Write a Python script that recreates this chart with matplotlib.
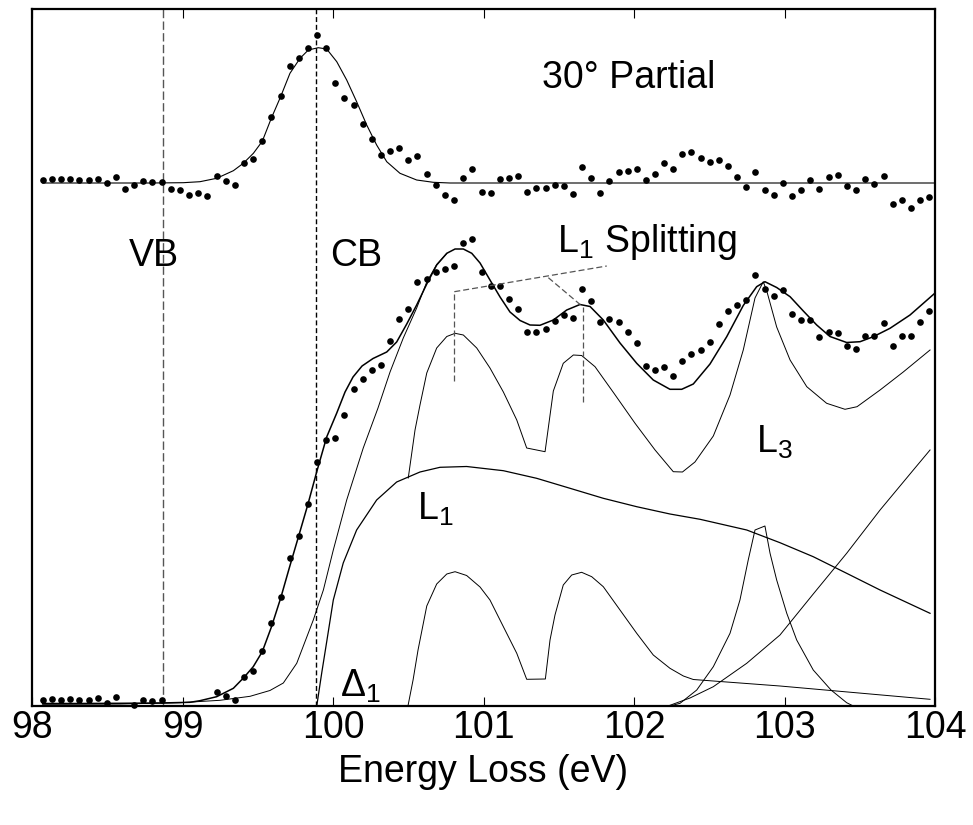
import matplotlib
matplotlib.use("Agg")
import matplotlib.pyplot as plt
import numpy as np

plt.rcParams['font.family'] = ['Liberation Sans', 'DejaVu Sans']
plt.rcParams['mathtext.fontset'] = 'custom'
plt.rcParams['mathtext.rm'] = 'Liberation Sans'
plt.rcParams['mathtext.it'] = 'Liberation Sans:italic'

# energy channels (eV), shared by both measured spectra
energy = [98.071, 98.131, 98.193, 98.254, 98.314, 98.377, 98.437, 98.496, 98.558, 98.618,
          98.680, 98.740, 98.799, 98.862, 98.922, 98.983, 99.043, 99.105, 99.165, 99.227,
          99.287, 99.347, 99.409, 99.468, 99.530, 99.590, 99.652, 99.713, 99.773, 99.833,
          99.894, 99.954, 100.015, 100.076, 100.137, 100.197, 100.258, 100.319, 100.379, 100.440,
          100.500, 100.561, 100.623, 100.682, 100.743, 100.804, 100.865, 100.926, 100.987, 101.048,
          101.108, 101.169, 101.230, 101.291, 101.352, 101.412, 101.473, 101.533, 101.595, 101.656,
          101.716, 101.776, 101.837, 101.898, 101.958, 102.019, 102.080, 102.141, 102.201, 102.262,
          102.322, 102.382, 102.444, 102.504, 102.563, 102.626, 102.686, 102.746, 102.807, 102.868,
          102.928, 102.990, 103.050, 103.110, 103.171, 103.231, 103.294, 103.354, 103.415, 103.475,
          103.536, 103.597, 103.658, 103.719, 103.780, 103.841, 103.902, 103.962]

# 30 deg partial spectrum (relative to its own baseline)
partial = [0.03, 0.043, 0.04, 0.043, 0.033, 0.033, 0.043, 0.003, 0.057, -0.06,
           -0.023, 0.023, 0.013, 0.013, -0.063, -0.07, -0.12, -0.103, -0.13, 0.07,
           0.02, -0.02, 0.197, 0.24, 0.417, 0.663, 0.867, 1.167, 1.247, 1.35,
           1.483, 1.353, 1.0, 0.853, 0.783, 0.587, 0.443, 0.28, 0.323, 0.353,
           0.227, 0.27, 0.087, -0.023, -0.123, -0.17, 0.047, 0.143, -0.09, -0.10,
           0.037, 0.053, 0.073, -0.087, -0.053, -0.047, -0.023, -0.027, -0.113, 0.157,
           0.053, -0.103, 0.02, 0.107, 0.123, 0.143, 0.03, 0.09, 0.197, 0.14,
           0.29, 0.31, 0.253, 0.21, 0.227, 0.173, 0.063, -0.04, 0.11, -0.067,
           -0.117, 0.003, -0.127, -0.073, 0.027, -0.06, 0.057, 0.083, -0.027, -0.07,
           0.037, -0.007, 0.07, -0.21, -0.173, -0.253, -0.17, -0.14]

nan = np.nan
spectrum = [0.057, 0.07, 0.063, 0.07, 0.057, 0.06, 0.08, 0.03, 0.087, nan,
            0.01, 0.063, 0.053, 0.06, nan, nan, nan, nan, nan, 0.137,
            0.097, 0.063, 0.293, 0.35, 0.55, 0.83, 1.09, 1.48, 1.705, 2.02,
            2.443, 2.66, 2.68, 2.91, 3.17, 3.27, 3.363, 3.407, 3.647, 3.87,
            3.97, 4.237, 4.273, 4.343, 4.373, 4.403, 4.627, 4.673, 4.343, 4.203,
            4.197, 4.07, 3.97, 3.74, 3.743, 3.773, 3.85, 3.913, 3.883, 4.167,
            4.047, 3.837, 3.87, 3.84, 3.74, 3.627, 3.40, 3.36, 3.393, 3.297,
            3.45, 3.517, 3.56, 3.643, 3.82, 3.95, 4.01, 4.06, 4.307, 4.168,
            4.103, 4.157, 3.923, 3.863, 3.857, 3.69, 3.74, 3.733, 3.603, 3.57,
            3.697, 3.70, 3.827, 3.603, 3.703, 3.697, 3.84, 3.947]

# fitted curves (eV, intensity)
partial_fit_e = [98.071, 98.784, 99.005, 99.116, 99.227, 99.338, 99.404, 99.471, 99.530, 99.590,
                 99.652, 99.714, 99.781, 99.836, 99.902, 99.958, 100.025, 100.091, 100.157, 100.224,
                 100.290, 100.357, 100.445, 100.556, 100.666, 100.777, 103.993]
partial_fit_i = [0, 0, 0.003, 0.013, 0.047, 0.123, 0.197, 0.297, 0.417, 0.647,
                 0.863, 1.097, 1.247, 1.33, 1.353, 1.34, 1.213, 1.03, 0.813, 0.58,
                 0.38, 0.213, 0.097, 0.03, 0.007, 0, 0]

total_fit_e = [98.071, 98.319, 98.585, 98.850, 99.050, 99.116, 99.227, 99.338, 99.409, 99.470,
               99.530, 99.590, 99.652, 99.712, 99.772, 99.832, 99.892, 99.958, 100.025, 100.080,
               100.133, 100.193, 100.266, 100.357, 100.423, 100.490, 100.556, 100.623, 100.689, 100.756,
               100.811, 100.866, 100.922, 100.977, 101.043, 101.110, 101.176, 101.243, 101.309, 101.375,
               101.464, 101.553, 101.641, 101.708, 101.796, 101.907, 102.018, 102.128, 102.239, 102.317,
               102.394, 102.505, 102.616, 102.726, 102.815, 102.870, 102.948, 103.037, 103.125, 103.214,
               103.302, 103.413, 103.502, 103.590, 103.701, 103.834, 103.993]
total_fit_i = [0.025, 0.025, 0.027, 0.03, 0.037, 0.053, 0.093, 0.177, 0.287, 0.393,
               0.543, 0.787, 1.077, 1.393, 1.70, 2.01, 2.343, 2.69, 2.93, 3.14,
               3.29, 3.40, 3.475, 3.54, 3.64, 3.82, 4.01, 4.22, 4.41, 4.527,
               4.57, 4.57, 4.527, 4.43, 4.26, 4.09, 3.94, 3.855, 3.81, 3.807,
               3.86, 3.96, 4.015, 3.995, 3.86, 3.63, 3.427, 3.26, 3.167, 3.167,
               3.22, 3.42, 3.693, 4.005, 4.193, 4.243, 4.185, 4.093, 3.95, 3.81,
               3.695, 3.635, 3.643, 3.693, 3.777, 3.91, 4.12]

edge_e = [98.071, 98.585, 98.983, 99.249, 99.449, 99.581, 99.670, 99.759, 99.869, 99.936,
          100.002, 100.091, 100.201, 100.299, 100.379, 100.467, 100.556, 100.623, 100.689, 100.756]
edge_i = [0.017, 0.02, 0.033, 0.057, 0.097, 0.155, 0.23, 0.427, 0.86, 1.16,
          1.56, 2.06, 2.58, 2.98, 3.34, 3.68, 3.98, 4.24, 4.415, 4.525]

split_upper_e = [100.500, 100.545, 100.578, 100.623, 100.689, 100.756, 100.811, 100.866, 100.955, 101.043,
                 101.132, 101.221, 101.287, 101.409, 101.464, 101.530, 101.597, 101.652, 101.741, 101.867,
                 102.007, 102.140, 102.261, 102.322, 102.405, 102.527, 102.638, 102.726, 102.804, 102.859,
                 102.884, 102.948, 103.037, 103.148, 103.280, 103.402, 103.482, 103.635, 103.789, 103.967]
split_upper_i = [2.28, 2.76, 3.01, 3.33, 3.58, 3.695, 3.727, 3.71, 3.58, 3.38,
                 3.14, 2.86, 2.58, 2.543, 3.15, 3.427, 3.51, 3.505, 3.393, 3.127,
                 2.827, 2.56, 2.343, 2.34, 2.44, 2.70, 3.11, 3.56, 4.08, 4.243,
                 4.14, 3.79, 3.46, 3.193, 3.027, 2.967, 2.993, 3.16, 3.34, 3.56]

split_lower_e = [100.498, 100.532, 100.565, 100.623, 100.689, 100.756, 100.811, 100.888, 100.977, 101.043,
                 101.132, 101.221, 101.287, 101.411, 101.442, 101.475, 101.530, 101.586, 101.652, 101.719,
                 101.796, 101.907, 102.018, 102.128, 102.239, 102.328, 102.394, 102.970, 103.967]
split_lower_i = [0.0, 0.26, 0.56, 1.0, 1.22, 1.32, 1.343, 1.305, 1.19, 1.06,
                 0.793, 0.527, 0.267, 0.27, 0.66, 0.91, 1.21, 1.31, 1.337, 1.293,
                 1.193, 0.96, 0.727, 0.51, 0.377, 0.30, 0.265, 0.20, 0.067]

l1_e = [99.892, 99.925, 99.960, 100.002, 100.068, 100.157, 100.290, 100.423, 100.578, 100.711,
        100.888, 101.132, 101.353, 101.575, 101.796, 102.018, 102.239, 102.439, 102.749, 102.970,
        103.191, 103.413, 103.635, 103.967]
l1_i = [0, 0.33, 0.66, 1.06, 1.43, 1.76, 2.06, 2.24, 2.34, 2.387,
        2.395, 2.353, 2.277, 2.177, 2.077, 1.993, 1.92, 1.867, 1.76, 1.633,
        1.493, 1.327, 1.16, 0.927]

l3_peak_e = [102.239, 102.306, 102.417, 102.527, 102.638, 102.704, 102.759, 102.804, 102.870, 102.904,
             102.948, 103.015, 103.081, 103.191, 103.309, 103.413, 103.457]
l3_peak_i = [0, 0.027, 0.16, 0.393, 0.727, 1.06, 1.46, 1.76, 1.80, 1.527,
             1.26, 0.927, 0.66, 0.36, 0.16, 0.033, 0]

l3_edge_e = [102.226, 102.372, 102.527, 102.749, 102.970, 103.191, 103.413, 103.635, 103.856, 103.967]
l3_edge_i = [0, 0.08, 0.193, 0.427, 0.71, 1.12, 1.527, 1.96, 2.36, 2.56]

vb_energy = 98.868
cb_energy = 99.889
partial_offset = 5.23

fig = plt.figure(figsize=(9.73, 8.25), dpi=100)
ax = fig.add_axes([32/973, 1 - 706/825, 903/973, 697/825])

# band edge markers
ax.axvline(vb_energy, color='#555555', lw=1.0, dashes=(6, 2.4))
ax.axvline(cb_energy, color='black', lw=1.0, dashes=(3.6, 2))

# measured data
ax.plot(energy, np.array(partial) + partial_offset, ls='none', marker='o', ms=4.8,
        color='black', mec='none', clip_on=False)
ax.plot(energy, spectrum, ls='none', marker='o', ms=4.8, color='black', mec='none', clip_on=False)

# fits
ax.plot(partial_fit_e, np.array(partial_fit_i) + partial_offset, color='black', lw=0.8)
ax.plot(total_fit_e, total_fit_i, color='black', lw=1.1)
comp = dict(color='black', lw=0.7)
ax.plot(edge_e, edge_i, **comp)
ax.plot(split_upper_e, split_upper_i, **comp)
ax.plot(split_lower_e, split_lower_i, **comp)
ax.plot(l1_e, l1_i, color='black', lw=0.9)
ax.plot(l3_peak_e, l3_peak_i, **comp)
ax.plot(l3_edge_e, l3_edge_i, **comp)

# L1 splitting annotation
dash = dict(color='#555555', lw=0.9, dashes=(4.8, 2.4))
ax.plot([100.806, 100.806], [3.25, 4.143], **dash)
ax.plot([100.806, 101.819], [4.143, 4.40], **dash)
ax.plot([101.431, 101.659], [4.283, 3.993], **dash)
ax.plot([101.659, 101.659], [3.043, 3.993], **dash)

fs = 27
ax.text(101.387, 6.177, '30° Partial', fontsize=fs, ha='left', va='baseline')
ax.text(98.645, 4.40, 'VB', fontsize=fs, ha='left', va='baseline')
ax.text(99.980, 4.40, 'CB', fontsize=fs, ha='left', va='baseline')
ax.text(101.488, 4.54, 'L$_1$ Splitting', fontsize=fs, ha='left', va='baseline')
ax.text(100.556, 1.86, 'L$_1$', fontsize=fs, ha='left', va='baseline')
ax.text(102.811, 2.53, 'L$_3$', fontsize=fs, ha='left', va='baseline')
ax.text(100.047, 0.09, 'Δ$_1$', fontsize=fs, ha='left', va='baseline')

ax.set_xlim(98, 104)
ax.set_ylim(0, 6.97)
ax.set_xticks([98, 99, 100, 101, 102, 103, 104])
ax.set_yticks([])
ax.tick_params(axis='x', direction='in', top=True, length=6.5, width=0.8,
               labelsize=fs, pad=3)
for s in ax.spines.values():
    s.set_linewidth(1.6)
ax.set_xlabel('Energy Loss (eV)', fontsize=fs, labelpad=6)

fig.savefig('out.png', dpi=100)
